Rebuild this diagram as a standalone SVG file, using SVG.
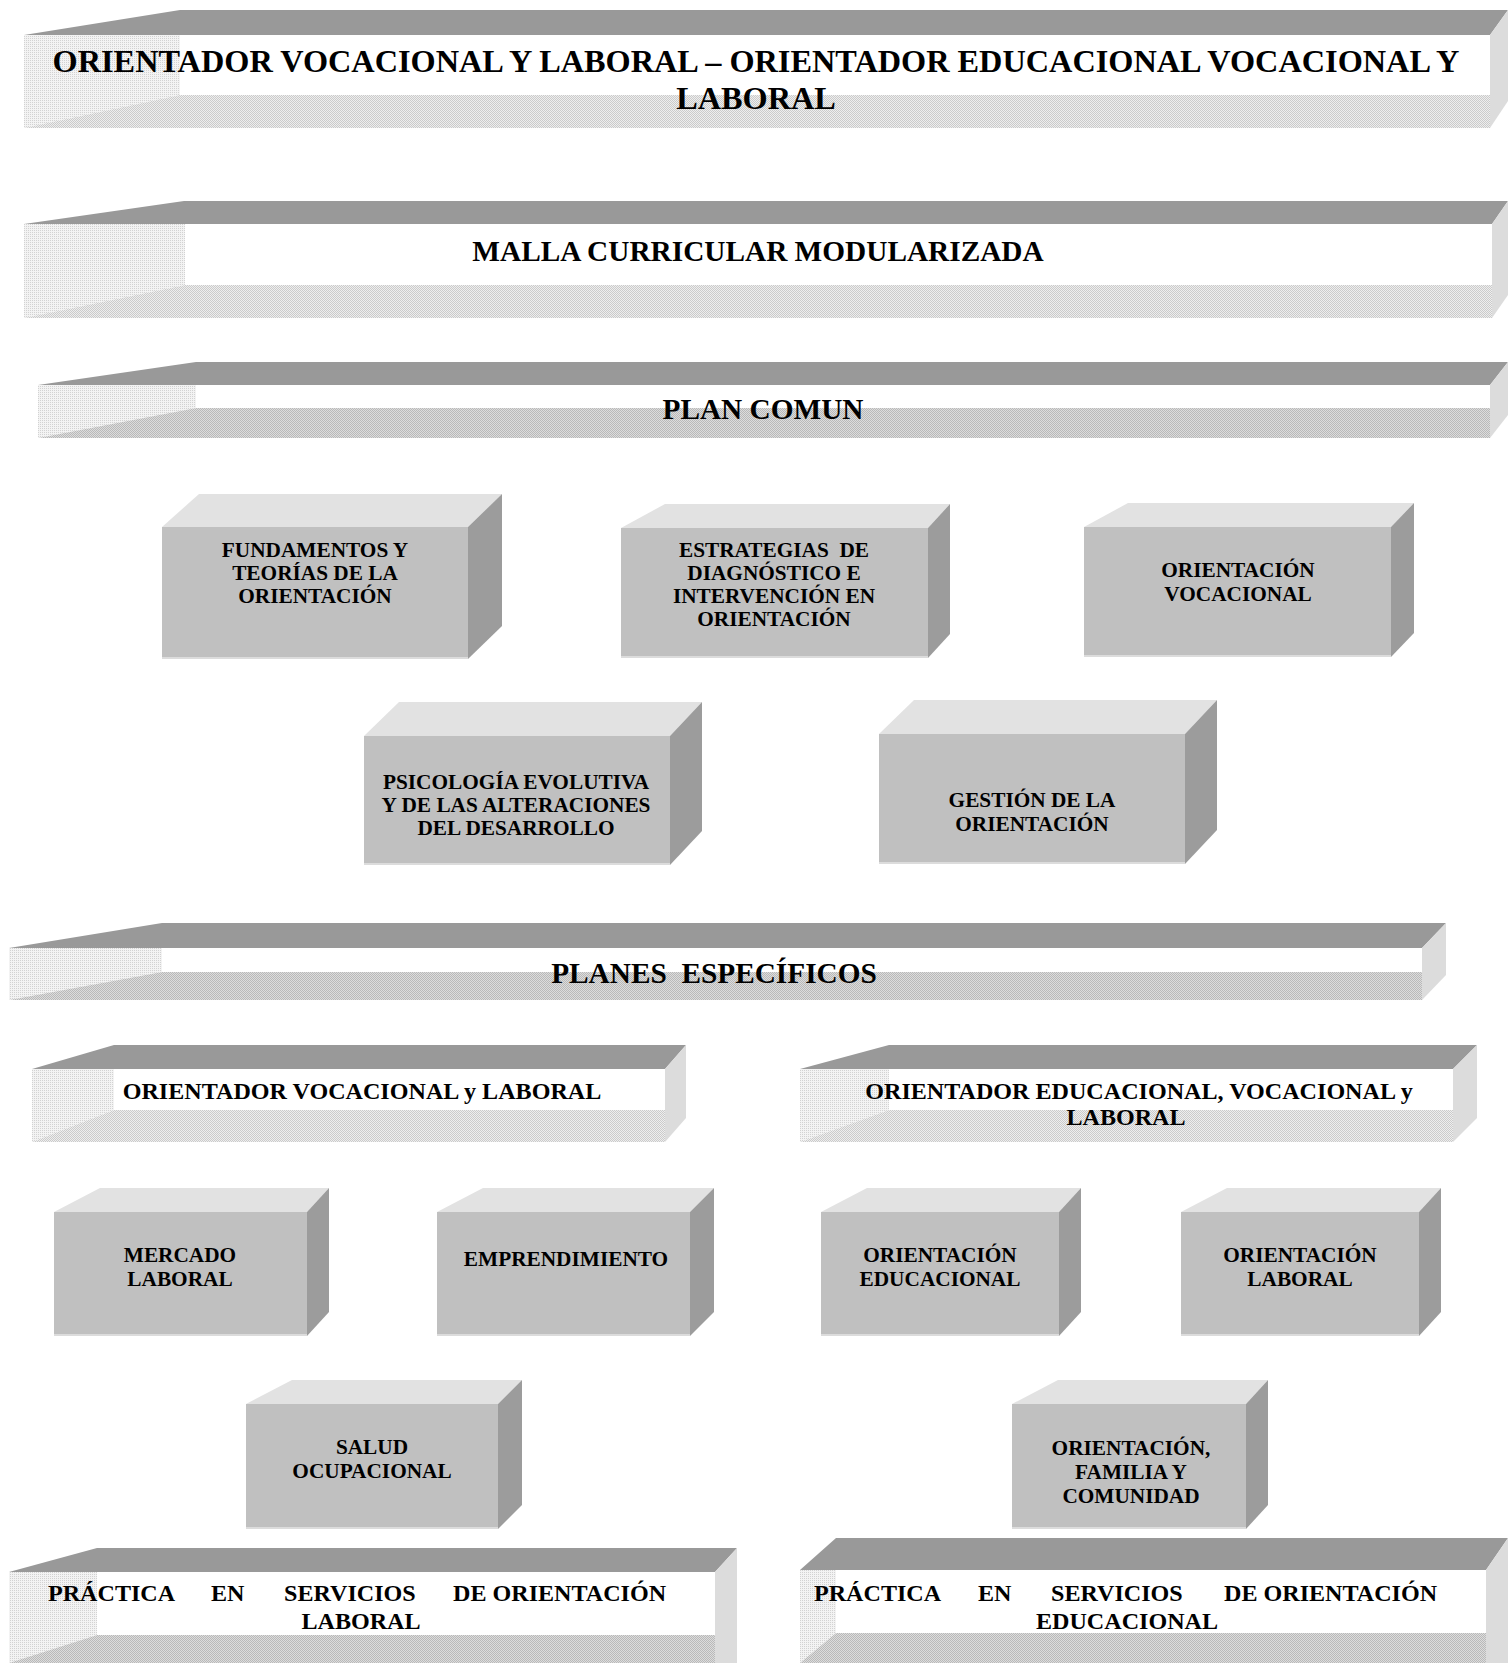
<svg xmlns="http://www.w3.org/2000/svg" width="1508" height="1663" viewBox="0 0 1508 1663">
<defs>
<pattern id="patA" width="2" height="2" patternUnits="userSpaceOnUse"><rect width="2" height="2" fill="#f3f3f3"/><rect width="1" height="1" fill="#d2d2d2"/></pattern>
<pattern id="patB" width="2" height="2" patternUnits="userSpaceOnUse"><rect width="2" height="2" fill="#eeeeee"/><rect width="1" height="1" fill="#cbcbcb"/><rect x="1" y="1" width="1" height="1" fill="#cbcbcb"/></pattern>
<pattern id="patC" width="2" height="2" patternUnits="userSpaceOnUse"><rect width="2" height="2" fill="#dcdcdc"/><rect width="1" height="1" fill="#b9b9b9"/><rect x="1" y="1" width="1" height="1" fill="#b9b9b9"/></pattern>
<style>
.btop{fill:#999999}
.bside{fill:#dcdcdc}
.bfront{fill:#ffffff}
.panel{fill:url(#patA)}
.bandL{fill:url(#patB)}
.bandD{fill:url(#patC)}
.xfront{fill:#c0c0c0}
.xtop{fill:#e2e2e2}
.xside{fill:#9c9c9c}
.xedge{stroke:#dcdcdc;stroke-width:2;fill:none}
text{font-family:"Liberation Serif","Times New Roman",serif;font-weight:bold;fill:#000;text-anchor:middle}
.t1{font-size:32.3px}
.t2{font-size:29.3px}
.t3{font-size:24.1px}
.t4{font-size:21.3px}
</style>
</defs>

<g id="banner-title">
<polygon class="btop" points="24,35 180,10 1508,10 1490,35"/>
<rect class="bfront" x="24" y="35" width="1466" height="93"/>
<polygon class="panel" points="24,35 180,35 180,95 24,128"/>
<polygon class="bandL" points="24,128 180,95 1490,95 1490,128"/>
<polygon class="bside" points="1490,35 1508,10 1508,101 1490,128"/>
<text class="t1" x="756" y="72">ORIENTADOR VOCACIONAL Y LABORAL – ORIENTADOR EDUCACIONAL VOCACIONAL Y</text>
<text class="t1" x="756" y="109">LABORAL</text>
</g>

<g id="banner-malla">
<polygon class="btop" points="24,224 184,201 1508,201 1492,224"/>
<rect class="bfront" x="24" y="224" width="1468" height="94"/>
<polygon class="panel" points="24,224 185,224 185,285 24,318"/>
<polygon class="bandL" points="24,318 185,285 1492,285 1492,318"/>
<polygon class="bside" points="1492,224 1508,201 1508,295 1492,318"/>
<text class="t2" x="758" y="261">MALLA CURRICULAR MODULARIZADA</text>
</g>

<g id="banner-plan-comun">
<polygon class="btop" points="38,385 196,362 1508,362 1490,385"/>
<rect class="bfront" x="38" y="385" width="1452" height="53"/>
<polygon class="panel" points="38,385 196,385 196,408 38,438"/>
<polygon class="bandD" points="38,438 196,408 1490,408 1490,438"/>
<polygon class="bside" points="1490,385 1508,362 1508,415 1490,438"/>
<text class="t2" x="763" y="419">PLAN COMUN</text>
</g>

<g id="box-fundamentos">
<polygon class="xtop" points="162,527 199,494 502,494 468,527"/>
<polygon class="xside" points="468,527 502,494 502,626 468,659"/>
<rect class="xfront" x="162" y="527" width="306" height="132"/>
<polyline class="xedge" points="162,658 468,658"/>
<text class="t4" x="315" y="557">FUNDAMENTOS Y</text>
<text class="t4" x="315" y="580">TEORÍAS DE LA</text>
<text class="t4" x="315" y="603">ORIENTACIÓN</text>
</g>

<g id="box-estrategias">
<polygon class="xtop" points="621,528 665,504 950,504 928,528"/>
<polygon class="xside" points="928,528 950,504 950,634 928,658"/>
<rect class="xfront" x="621" y="528" width="307" height="130"/>
<polyline class="xedge" points="621,657 928,657"/>
<text class="t4" x="774" y="557" xml:space="preserve">ESTRATEGIAS  DE</text>
<text class="t4" x="774" y="580">DIAGNÓSTICO E</text>
<text class="t4" x="774" y="603">INTERVENCIÓN EN</text>
<text class="t4" x="774" y="626">ORIENTACIÓN</text>
</g>

<g id="box-orientacion-vocacional">
<polygon class="xtop" points="1084,527 1128,503 1414,503 1391,527"/>
<polygon class="xside" points="1391,527 1414,503 1414,633 1391,657"/>
<rect class="xfront" x="1084" y="527" width="307" height="130"/>
<polyline class="xedge" points="1084,656 1391,656"/>
<text class="t4" x="1238" y="577">ORIENTACIÓN</text>
<text class="t4" x="1238" y="601">VOCACIONAL</text>
</g>

<g id="box-psicologia">
<polygon class="xtop" points="364,736 399,702 702,702 670,736"/>
<polygon class="xside" points="670,736 702,702 702,831 670,865"/>
<rect class="xfront" x="364" y="736" width="306" height="129"/>
<polyline class="xedge" points="364,864 670,864"/>
<text class="t4" x="516" y="789">PSICOLOGÍA EVOLUTIVA</text>
<text class="t4" x="516" y="812">Y DE LAS ALTERACIONES</text>
<text class="t4" x="516" y="835">DEL DESARROLLO</text>
</g>

<g id="box-gestion">
<polygon class="xtop" points="879,734 914,700 1217,700 1185,734"/>
<polygon class="xside" points="1185,734 1217,700 1217,830 1185,864"/>
<rect class="xfront" x="879" y="734" width="306" height="130"/>
<polyline class="xedge" points="879,863 1185,863"/>
<text class="t4" x="1032" y="807">GESTIÓN DE LA</text>
<text class="t4" x="1032" y="831">ORIENTACIÓN</text>
</g>

<g id="banner-planes-especificos">
<polygon class="btop" points="9,948 162,923 1446,923 1422,948"/>
<rect class="bfront" x="9" y="948" width="1413" height="52"/>
<polygon class="panel" points="9,948 162,948 162,972 9,1000"/>
<polygon class="bandD" points="9,1000 162,972 1422,972 1422,1000"/>
<polygon class="bside" points="1422,948 1446,923 1446,975 1422,1000"/>
<text class="t2" x="714" y="983" xml:space="preserve">PLANES  ESPECÍFICOS</text>
</g>

<g id="banner-orientador-vocacional-laboral">
<polygon class="btop" points="32,1069 114,1045 686,1045 665,1069"/>
<rect class="bfront" x="32" y="1069" width="633" height="73"/>
<polygon class="panel" points="32,1069 114,1069 114,1110 32,1142"/>
<polygon class="bandL" points="32,1142 114,1110 665,1110 665,1142"/>
<polygon class="bside" points="665,1069 686,1045 686,1118 665,1142"/>
<text class="t3" x="362" y="1099">ORIENTADOR VOCACIONAL y LABORAL</text>
</g>

<g id="banner-orientador-educacional">
<polygon class="btop" points="800,1069 889,1045 1477,1045 1453,1069"/>
<rect class="bfront" x="800" y="1069" width="653" height="73"/>
<polygon class="panel" points="800,1069 889,1069 889,1110 800,1142"/>
<polygon class="bandL" points="800,1142 889,1110 1453,1110 1453,1142"/>
<polygon class="bside" points="1453,1069 1477,1045 1477,1118 1453,1142"/>
<text class="t3" x="1139" y="1099">ORIENTADOR EDUCACIONAL, VOCACIONAL y</text>
<text class="t3" x="1126" y="1125">LABORAL</text>
</g>

<g id="box-mercado-laboral">
<polygon class="xtop" points="54,1212 100,1188 329,1188 307,1212"/>
<polygon class="xside" points="307,1212 329,1188 329,1312 307,1336"/>
<rect class="xfront" x="54" y="1212" width="253" height="124"/>
<polyline class="xedge" points="54,1335 307,1335"/>
<text class="t4" x="180" y="1262">MERCADO</text>
<text class="t4" x="180" y="1286">LABORAL</text>
</g>

<g id="box-emprendimiento">
<polygon class="xtop" points="437,1212 483,1188 714,1188 690,1212"/>
<polygon class="xside" points="690,1212 714,1188 714,1312 690,1336"/>
<rect class="xfront" x="437" y="1212" width="253" height="124"/>
<polyline class="xedge" points="437,1335 690,1335"/>
<text class="t4" x="566" y="1266">EMPRENDIMIENTO</text>
</g>

<g id="box-orientacion-educacional">
<polygon class="xtop" points="821,1212 867,1188 1081,1188 1059,1212"/>
<polygon class="xside" points="1059,1212 1081,1188 1081,1312 1059,1336"/>
<rect class="xfront" x="821" y="1212" width="238" height="124"/>
<polyline class="xedge" points="821,1335 1059,1335"/>
<text class="t4" x="940" y="1262">ORIENTACIÓN</text>
<text class="t4" x="940" y="1286">EDUCACIONAL</text>
</g>

<g id="box-orientacion-laboral">
<polygon class="xtop" points="1181,1212 1227,1188 1441,1188 1419,1212"/>
<polygon class="xside" points="1419,1212 1441,1188 1441,1312 1419,1336"/>
<rect class="xfront" x="1181" y="1212" width="238" height="124"/>
<polyline class="xedge" points="1181,1335 1419,1335"/>
<text class="t4" x="1300" y="1262">ORIENTACIÓN</text>
<text class="t4" x="1300" y="1286">LABORAL</text>
</g>

<g id="box-salud-ocupacional">
<polygon class="xtop" points="246,1404 292,1380 522,1380 498,1404"/>
<polygon class="xside" points="498,1404 522,1380 522,1505 498,1529"/>
<rect class="xfront" x="246" y="1404" width="252" height="125"/>
<polyline class="xedge" points="246,1528 498,1528"/>
<text class="t4" x="372" y="1454">SALUD</text>
<text class="t4" x="372" y="1478">OCUPACIONAL</text>
</g>

<g id="box-orientacion-familia">
<polygon class="xtop" points="1012,1404 1058,1380 1268,1380 1246,1404"/>
<polygon class="xside" points="1246,1404 1268,1380 1268,1505 1246,1529"/>
<rect class="xfront" x="1012" y="1404" width="234" height="125"/>
<polyline class="xedge" points="1012,1528 1246,1528"/>
<text class="t4" x="1131" y="1455">ORIENTACIÓN,</text>
<text class="t4" x="1131" y="1479">FAMILIA Y</text>
<text class="t4" x="1131" y="1503">COMUNIDAD</text>
</g>

<g id="banner-practica-laboral">
<polygon class="btop" points="9,1572 97,1548 737,1548 715,1572"/>
<rect class="bfront" x="9" y="1572" width="706" height="91"/>
<polygon class="panel" points="9,1572 97,1572 97,1635 9,1663"/>
<polygon class="bandD" points="9,1663 97,1635 715,1635 715,1663"/>
<polygon class="bside" points="715,1572 737,1548 737,1663 715,1663"/>
<text class="t3" y="1601" style="text-anchor:start"><tspan x="48">PRÁCTICA</tspan><tspan x="211">EN</tspan><tspan x="284">SERVICIOS</tspan><tspan x="453">DE ORIENTACIÓN</tspan></text>
<text class="t3" x="361" y="1629">LABORAL</text>
</g>

<g id="banner-practica-educacional">
<polygon class="btop" points="800,1570 836,1538 1508,1538 1486,1570"/>
<rect class="bfront" x="800" y="1570" width="686" height="93"/>
<polygon class="panel" points="800,1570 836,1570 836,1633 800,1663"/>
<polygon class="bandD" points="800,1663 836,1633 1486,1633 1486,1663"/>
<polygon class="bside" points="1486,1570 1508,1538 1508,1663 1486,1663"/>
<text class="t3" y="1601" style="text-anchor:start"><tspan x="814">PRÁCTICA</tspan><tspan x="978">EN</tspan><tspan x="1051">SERVICIOS</tspan><tspan x="1224">DE ORIENTACIÓN</tspan></text>
<text class="t3" x="1127" y="1629">EDUCACIONAL</text>
</g>

<g id="connectors"></g>
</svg>
